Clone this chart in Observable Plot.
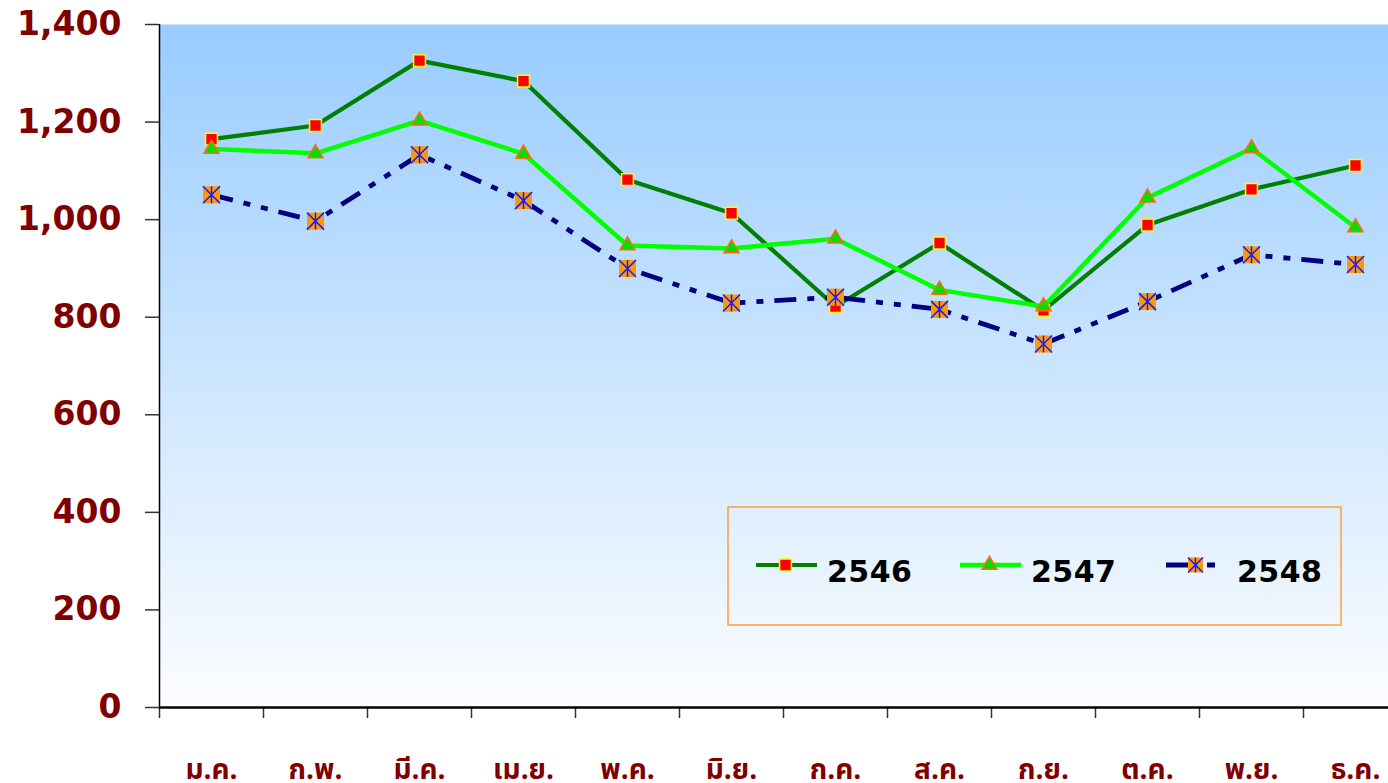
<!DOCTYPE html>
<html>
<head>
<meta charset="utf-8">
<script src="https://cdn.jsdelivr.net/npm/d3@7"></script>
<script src="https://cdn.jsdelivr.net/npm/@observablehq/plot@0.6"></script>
<style>
  html, body { margin: 0; padding: 0; background: #ffffff; overflow: hidden; }
  #chart svg { display: block; }
</style>
</head>
<body>
<div id="chart"></div>
<script>
// ---- data ----
const months = ["ม.ค.", "ก.พ.", "มี.ค.", "เม.ย.", "พ.ค.", "มิ.ย.", "ก.ค.", "ส.ค.", "ก.ย.", "ต.ค.", "พ.ย.", "ธ.ค."];
const seriesNames = ["2546", "2547", "2548"];
const y2546 = [1165, 1193, 1326, 1284, 1082, 1013, 822, 952, 814, 989, 1062, 1111];
const y2547 = [1145, 1136, 1203, 1135, 947, 941, 961, 856, 822, 1045, 1146, 984];
const y2548 = [1051, 997, 1133, 1039, 900, 829, 841, 816, 745, 832, 928, 908];
const yTicks = [0, 200, 400, 600, 800, 1000, 1200, 1400];

const toRows = (vals) => vals.map((v, i) => ({m: i + 1, v}));
const d46 = toRows(y2546), d47 = toRows(y2547), d48 = toRows(y2548);
const monthIdx = months.map((_, i) => i + 1);
const boundaries = months.map((_, i) => i + 0.5);

// custom asterisk symbol (vertical + X reaching the square corners)
const asterisk = {
  draw(ctx, size) {
    const s = Math.sqrt(size) / 2;
    ctx.moveTo(0, -s); ctx.lineTo(0, s);
    ctx.moveTo(-s, -s); ctx.lineTo(s, s);
    ctx.moveTo(-s, s); ctx.lineTo(s, -s);
  }
};

const dash48 = "22,11,7,11,7,11";
const labelFont = "DejaVu Sans, Verdana, sans-serif";
const rSq = 6.7, rTri = 5.6, rOr = 9.6;

const W = 1388, H = 783;
const chart = Plot.plot({
  width: W,
  height: H,
  marginLeft: 159,
  marginRight: 0,
  marginTop: 24,
  marginBottom: 76,
  style: {background: "transparent", overflow: "hidden"},
  x: {domain: [0.5, 12.5], range: [159, 1407]},
  y: {domain: [0, 1400]},
  marks: [
    Plot.frame({fill: "url(#bgGrad)", stroke: "none"}),
    // y axis
    Plot.axisY({
      ticks: yTicks, tickSize: 14, tickPadding: 24,
      tickFormat: d3.format(","),
      fontSize: 33, fontWeight: "bold", fontFamily: labelFont,
      fill: "#800000", stroke: "#333", strokeWidth: 1.5, label: null
    }),
    // x tick marks at month boundaries
    Plot.axisX({ticks: boundaries, tickSize: 11, tickFormat: () => "", stroke: "#333", strokeWidth: 1.5, label: null}),
    // month labels
    Plot.axisX({
      ticks: monthIdx, tickSize: 0, tickPadding: 52,
      tickFormat: (d) => months[d - 1],
      fontSize: 28, fontWeight: "bold", fontFamily: "Tahoma, 'Noto Sans Thai', sans-serif",
      fill: "#800000", label: null
    }),
    Plot.ruleX([0.5], {stroke: "#000", strokeWidth: 1.5}),
    Plot.ruleY([0], {stroke: "#000", strokeWidth: 2.5}),
    // 2546
    Plot.line(d46, {x: "m", y: "v", stroke: "#008000", strokeWidth: 4.2}),
    Plot.dot(d46, {x: "m", y: "v", symbol: "square", r: rSq, fill: "#ff0000", stroke: "#ffff00", strokeWidth: 1.5}),
    // 2547
    Plot.line(d47, {x: "m", y: "v", stroke: "#00ff00", strokeWidth: 4.5}),
    Plot.dot(d47, {x: "m", y: "v", symbol: "triangle", r: rTri, fill: "#00e000", stroke: "#ff6a10", strokeWidth: 1.5}),
    // 2548
    Plot.line(d48, {x: "m", y: "v", stroke: "#000080", strokeWidth: 4.8, strokeDasharray: dash48, strokeLinecap: "butt"}),
    Plot.dot(d48, {x: "m", y: "v", symbol: "square", r: rOr, fill: "#ff9900", stroke: "none"}),
    Plot.dot(d48, {x: "m", y: "v", symbol: asterisk, r: rOr, fill: "none", stroke: "#1a1aff", strokeWidth: 1.5})
  ]
});

const svg = d3.select(chart);
const defs = svg.insert("defs", ":first-child");
const grad = defs.append("linearGradient").attr("id", "bgGrad")
  .attr("x1", 0).attr("y1", 0).attr("x2", 0).attr("y2", 1);
grad.append("stop").attr("offset", "0%").attr("stop-color", "#99ccff");
grad.append("stop").attr("offset", "100%").attr("stop-color", "#fcfdff");

// ---- legend (inside plot area) ----
const lg = svg.append("g").attr("class", "legend").attr("text-anchor", "start");
lg.append("rect").attr("x", 728).attr("y", 507).attr("width", 613).attr("height", 118)
  .attr("fill", "none").attr("stroke", "#ffa033").attr("stroke-width", 1.5);

const legendItems = [
  {name: seriesNames[0], x: 756, len: 61, stroke: "#008000", sw: 4.2, dash: null},
  {name: seriesNames[1], x: 960, len: 61, stroke: "#00ff00", sw: 4.5, dash: null},
  {name: seriesNames[2], x: 1166, len: 50, stroke: "#000080", sw: 4.8, dash: "22,19,8,11"}
];
const ly = 565;
legendItems.forEach((it, i) => {
  const g = lg.append("g");
  const ln = g.append("line").attr("x1", it.x).attr("x2", it.x + it.len).attr("y1", ly).attr("y2", ly)
    .attr("stroke", it.stroke).attr("stroke-width", it.sw);
  if (it.dash) ln.attr("stroke-dasharray", it.dash);
  const mx = it.x + 29.5;
  if (i === 0) {
    g.append("path").attr("transform", `translate(${mx},${ly})`)
      .attr("d", d3.symbol(d3.symbolSquare, Math.PI * rSq * rSq)())
      .attr("fill", "#ff0000").attr("stroke", "#ffff00").attr("stroke-width", 1.5);
  } else if (i === 1) {
    g.append("path").attr("transform", `translate(${mx},${ly})`)
      .attr("d", d3.symbol(d3.symbolTriangle, Math.PI * rTri * rTri)())
      .attr("fill", "#00e000").attr("stroke", "#ff6a10").attr("stroke-width", 1.5);
  } else {
    g.append("path").attr("transform", `translate(${mx},${ly})`)
      .attr("d", d3.symbol(d3.symbolSquare, Math.PI * 8.4 * 8.4)())
      .attr("fill", "#ff9900");
    g.append("path").attr("transform", `translate(${mx},${ly})`)
      .attr("d", d3.symbol(asterisk, Math.PI * 8.4 * 8.4)())
      .attr("fill", "none").attr("stroke", "#1a1aff").attr("stroke-width", 1.5);
  }
  g.append("text").attr("x", it.x + 71).attr("y", ly + 6).attr("dy", "0.35em")
    .attr("text-anchor", "start")
    .attr("font-family", labelFont).attr("font-weight", "bold").attr("font-size", 30)
    .attr("letter-spacing", "0.5px")
    .attr("fill", "#000").text(it.name);
});

document.getElementById("chart").appendChild(chart);
</script>
</body>
</html>
